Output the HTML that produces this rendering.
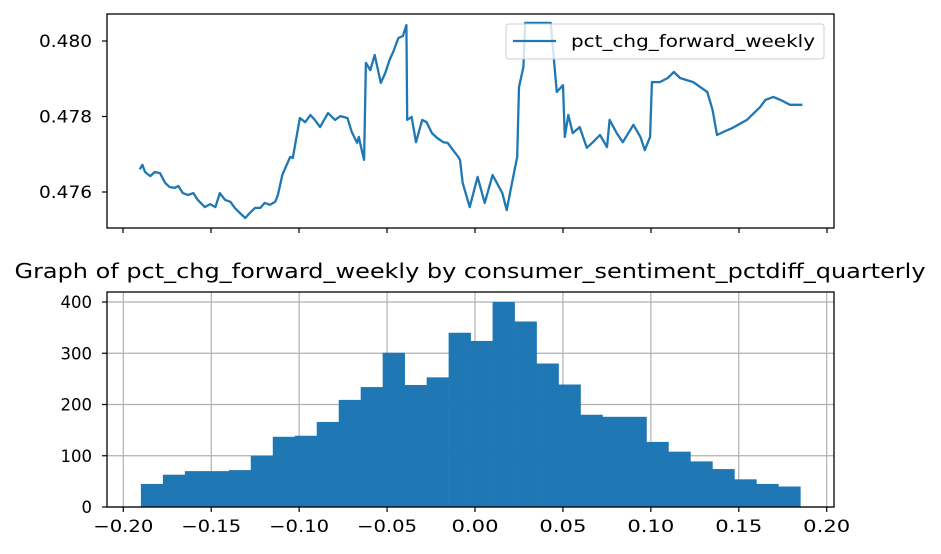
<!DOCTYPE html>
<html><head><meta charset="utf-8"><style>
body{margin:0;background:#fff;}
svg{display:block;font-family:"DejaVu Sans","Liberation Sans",sans-serif;}
</style></head><body>
<svg id="chart" width="941" height="554" viewBox="0 0 941 554">
<rect width="941" height="554" fill="#fff"/>
<g id="topPanel"></g>
<g id="botPanel"></g>
</svg>
<script>
// Top line chart data (x in time units 0..80, y = pct_chg_forward_weekly)
const lineX = [1.9,2.2,2.5,3.1,3.6,4.2,4.8,5.3,5.9,6.3,6.8,7.4,8.0,8.5,9.3,9.9,10.5,11.0,11.6,12.2,12.7,13.3,13.9,14.4,15.0,15.6,16.1,16.7,17.3,17.6,18.1,18.6,19.0,19.3,19.8,20.1,20.7,21.3,21.8,22.4,22.7,23.3,24.1,24.7,25.5,26.0,26.6,26.8,27.2,27.4,27.6,28.1,28.6,29.3,29.8,30.3,30.7,31.3,31.8,32.2,32.3,32.8,33.3,34.0,34.5,35.1,35.7,36.4,36.9,37.5,38.1,38.3,38.6,39.4,40.3,41.1,42.0,43.1,43.6,44.2,44.8,45.0,45.5,45.7,48.6,49.0,49.3,50.0,50.2,50.6,51.1,51.9,52.7,53.4,54.2,55.0,55.3,56.1,56.8,58.0,58.8,59.3,59.9,60.1,61.0,61.9,62.6,63.3,64.8,66.4,67.0,67.5,68.2,69.3,70.9,72.4,73.0,73.9,74.7,75.8,77.2];
const lineY = [0.47660,0.47672,0.47653,0.47642,0.47653,0.47650,0.47624,0.47613,0.47611,0.47616,0.47597,0.47592,0.47597,0.47579,0.47560,0.47568,0.47560,0.47597,0.47579,0.47574,0.47558,0.47544,0.47531,0.47544,0.47558,0.47558,0.47571,0.47566,0.47574,0.47592,0.47645,0.47672,0.47693,0.47690,0.47756,0.47796,0.47785,0.47804,0.47791,0.47772,0.47785,0.47809,0.47791,0.47801,0.47796,0.47759,0.47730,0.47746,0.47703,0.47685,0.47942,0.47923,0.47963,0.47889,0.47915,0.47950,0.47971,0.48008,0.48013,0.48042,0.47791,0.47799,0.47732,0.47791,0.47785,0.47756,0.47743,0.47732,0.47730,0.47711,0.47693,0.47685,0.47624,0.47560,0.47640,0.47571,0.47645,0.47597,0.47552,0.47624,0.47693,0.47878,0.47931,0.48048,0.48048,0.47942,0.47865,0.47883,0.47746,0.47804,0.47756,0.47772,0.47717,0.47732,0.47751,0.47719,0.47791,0.47756,0.47732,0.47778,0.47746,0.47711,0.47746,0.47891,0.47891,0.47902,0.47918,0.47902,0.47891,0.47865,0.47817,0.47751,0.47759,0.47770,0.47791,0.47825,0.47844,0.47852,0.47844,0.47831,0.47831];
const topYTicks = [0.476,0.478,0.480];
const topYTickLabels = ["0.476","0.478","0.480"];
const topXTicks = [0,10,20,30,40,50,60,70,80];
// Histogram data
const binStart = -0.19;
const binWidth = 0.0125;
const counts = [45,63,70,70,72,100,137,139,166,209,234,301,238,253,340,324,400,362,280,239,180,176,176,127,108,89,74,54,45,40];
const histXTicks = [-0.20,-0.15,-0.10,-0.05,0.00,0.05,0.10,0.15,0.20];
const histXTickLabels = ["\u22120.20","\u22120.15","\u22120.10","\u22120.05","0.00","0.05","0.10","0.15","0.20"];
const histYTicks = [0,100,200,300,400];
const histYTickLabels = ["0","100","200","300","400"];

const NS="http://www.w3.org/2000/svg";
function mk(parent,tag,attrs,text){const e=document.createElementNS(NS,tag);for(const k in attrs)e.setAttribute(k,attrs[k]);if(text!==undefined)e.textContent=text;parent.appendChild(e);return e;}

// ---- top panel
const topG=document.getElementById('topPanel');
const tL=107,tR=834,tT=14,tB=228;
const tx=v=>123+(v-0)*(827-123)/80;
const ty=v=>192-(v-0.476)*(192-41)/0.004;
mk(topG,'rect',{x:tL,y:tT,width:tR-tL,height:tB-tT,fill:'#fff'});
let pathD='';
const nPts=Math.min(lineX.length,lineY.length);
for(let i=0;i<nPts;i++){pathD+=(i?'L':'M')+tx(lineX[i]).toFixed(1)+','+ty(lineY[i]).toFixed(1);}
const clipEl=mk(topG,'clipPath',{id:'tc'});mk(clipEl,'rect',{x:tL,y:tT,width:tR-tL,height:tB-tT});
const ln=mk(topG,'path',{d:pathD,fill:'none',stroke:'#1f77b4','stroke-width':2.3,'stroke-linejoin':'round','clip-path':'url(#tc)'});


topYTicks.forEach((v,i)=>{
  const y=ty(v);
  mk(topG,'line',{x1:tL-5,x2:tL,y1:y,y2:y,stroke:'#000','stroke-width':1.2});
  const t=mk(topG,'text',{x:92,y:y+6,'text-anchor':'end','font-size':17,textLength:53,lengthAdjust:'spacingAndGlyphs',fill:'#000'},topYTickLabels[i]);
  
  
});
topXTicks.forEach(v=>{const x=tx(v);mk(topG,'line',{x1:x,x2:x,y1:tB,y2:tB+5,stroke:'#000','stroke-width':1.2});});
mk(topG,'rect',{x:tL,y:tT,width:tR-tL,height:tB-tT,fill:'none',stroke:'#000','stroke-width':1.3});
const leg=mk(topG,'g',{});


mk(leg,'rect',{x:506,y:24,width:318,height:35,rx:3,fill:'#fff','fill-opacity':0.8,stroke:'#ccc','stroke-width':1});
mk(leg,'line',{x1:513,x2:556,y1:41,y2:41,stroke:'#1f77b4','stroke-width':2.3});
mk(leg,'text',{x:571,y:47,'font-size':17,textLength:244,lengthAdjust:'spacingAndGlyphs',fill:'#000'},'pct_chg_forward_weekly');

// ---- bottom panel
const botG=document.getElementById('botPanel');
const bL=107,bR=834,bT=292,bB=507;
const hx=v=>123.3+(v+0.2)*(826.7-123.3)/0.4;
const hy=v=>507-v*(507-302)/400;
histXTicks.forEach(v=>mk(botG,'line',{x1:hx(v),x2:hx(v),y1:bT,y2:bB,stroke:'#b0b0b0','stroke-width':1.2}));
histYTicks.forEach(v=>mk(botG,'line',{x1:bL,x2:bR,y1:hy(v),y2:hy(v),stroke:'#b0b0b0','stroke-width':1.2}));
counts.forEach((c,i)=>{
  const x0=hx(binStart+i*binWidth),x1=hx(binStart+(i+1)*binWidth);
  const r=mk(botG,'rect',{x:x0,y:hy(c),width:x1-x0+0.3,height:hy(0)-hy(c),fill:'#1f77b4'});
  
  
});
mk(botG,'rect',{x:bL,y:bT,width:bR-bL,height:bB-bT,fill:'none',stroke:'#000','stroke-width':1.3});
histXTicks.forEach((v,i)=>{
  const x=hx(v);
  mk(botG,'line',{x1:x,x2:x,y1:bB,y2:bB+5,stroke:'#000','stroke-width':1.2});
  const lab=histXTickLabels[i];
  const t=mk(botG,'text',{x:x,y:bB+25,'text-anchor':'middle','font-size':17,textLength:lab[0]==='\u2212'?60:47,lengthAdjust:'spacingAndGlyphs',fill:'#000'},lab);
  
  
});
histYTicks.forEach((v,i)=>{
  const y=hy(v);
  mk(botG,'line',{x1:bL-5,x2:bL,y1:y,y2:y,stroke:'#000','stroke-width':1.2});
  const lab=histYTickLabels[i];
  const t=mk(botG,'text',{x:92,y:y+6,'text-anchor':'end','font-size':17,textLength:lab.length*10.5,lengthAdjust:'spacingAndGlyphs',fill:'#000'},lab);
  
  
});
const title=mk(botG,'text',{x:470,y:278,'text-anchor':'middle','font-size':20,textLength:911,lengthAdjust:'spacingAndGlyphs',fill:'#000'},'Graph of pct_chg_forward_weekly by consumer_sentiment_pctdiff_quarterly');


</script>
</body></html>
